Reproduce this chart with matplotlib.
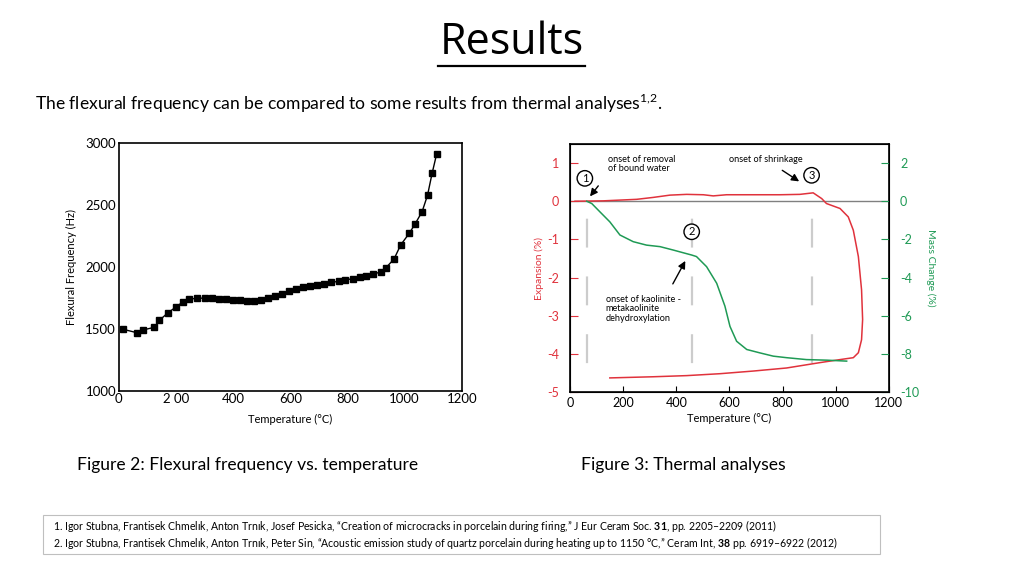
import matplotlib
matplotlib.use("Agg")
import matplotlib.pyplot as plt
from matplotlib.patches import Rectangle
from matplotlib.lines import Line2D

plt.rcParams["font.family"] = ["Lato", "DejaVu Sans"]
plt.rcParams["axes.unicode_minus"] = False
plt.rcParams["mathtext.fontset"] = "custom"
plt.rcParams["mathtext.rm"] = "Lato"
plt.rcParams["mathtext.bf"] = "Lato:bold"

# ---------- data: Figure 2, flexural frequency ----------
flex_temp = [16, 63, 84, 124, 142, 171, 200, 224, 247, 275, 301, 326, 352, 375,
             401, 425, 450, 473, 498, 521, 545, 571, 597, 620, 643, 669, 692,
             718, 744, 769, 793, 818, 843, 865, 888, 916, 935, 963, 986, 1016,
             1037, 1061, 1080, 1096, 1112]
flex_freq = [1496, 1469, 1491, 1512, 1569, 1628, 1677, 1717, 1741, 1747, 1749,
             1747, 1741, 1739, 1733, 1730, 1728, 1728, 1736, 1752, 1768, 1784,
             1803, 1819, 1836, 1846, 1854, 1863, 1876, 1884, 1895, 1906, 1916,
             1930, 1941, 1960, 1995, 2065, 2178, 2272, 2350, 2447, 2580, 2757,
             2914]

# ---------- data: Figure 3, thermal analyses ----------
exp_temp = [19, 125, 188, 251, 313, 376, 439, 502, 539, 589, 690, 790, 865, 915,
            947, 965, 1016, 1047, 1066, 1085, 1097, 1101, 1097, 1085, 1066,
            1016, 940, 815, 690, 564, 439, 313, 150]
exp_val = [0.0, 0.01, 0.03, 0.05, 0.10, 0.16, 0.18, 0.17, 0.14, 0.17, 0.17,
           0.17, 0.18, 0.22, 0.07, -0.06, -0.19, -0.41, -0.76, -1.45, -2.32,
           -3.10, -3.63, -3.97, -4.10, -4.15, -4.23, -4.37, -4.45, -4.52,
           -4.57, -4.60, -4.63]

mass_temp = [63, 82, 113, 150, 188, 238, 288, 339, 389, 426, 458, 476, 514, 552,
             583, 602, 627, 665, 715, 765, 815, 890, 966, 1041]
mass_val = [0.0, -0.12, -0.56, -1.08, -1.77, -2.12, -2.30, -2.38, -2.56, -2.70,
            -2.82, -2.90, -3.43, -4.30, -5.50, -6.56, -7.34, -7.77, -7.95,
            -8.12, -8.20, -8.30, -8.33, -8.38]

onset_temps = [63, 458, 909]

RED = "#e0323c"
GREEN = "#1f9a55"
GREY = "#cccccc"

fig = plt.figure(figsize=(10.24, 5.76), dpi=100)

# ---------- slide text ----------
fig.text(0.5, 0.925, "Results", ha="center", va="center", fontsize=31,
         family=["Open Sans", "DejaVu Sans"])
fig.add_artist(Line2D([438 / 1024, 585 / 1024], [1 - 66 / 576, 1 - 66 / 576],
                      color="black", lw=1.6))
fig.text(35 / 1024, 1 - 103 / 576,
         r"The flexural frequency can be compared to some results from thermal analyses$^{1{,}2}$.",
         ha="left", va="center", fontsize=12.6)

fig.text(77 / 1024, 1 - 465 / 576, "Figure 2: Flexural frequency vs. temperature",
         ha="left", va="center", fontsize=12.6)
fig.text(581 / 1024, 1 - 465 / 576, "Figure 3: Thermal analyses",
         ha="left", va="center", fontsize=12.6)

fig.add_artist(Rectangle((43 / 1024, 1 - 554 / 576), (880 - 43) / 1024, 39 / 576,
                         transform=fig.transFigure, fill=False,
                         edgecolor="#bfbfbf", lw=0.8))
fig.text(53 / 1024, 1 - 526 / 576,
         "1. Igor Stubna, Frantisek Chmelık, Anton Trnık, Josef Pesicka, \u201cCreation of microcracks in porcelain during firing,\u201d J Eur Ceram Soc. $\\bf{31}$, pp. 2205\u20132209 (2011)",
         ha="left", va="center", fontsize=7.6)
fig.text(53 / 1024, 1 - 543 / 576,
         "2. Igor Stubna, Frantisek Chmelık, Anton Trnık, Peter Sin, \u201cAcoustic emission study of quartz porcelain during heating up to 1150 \u00b0C,\u201d Ceram Int, $\\bf{38}$ pp. 6919\u20136922 (2012)",
         ha="left", va="center", fontsize=7.6)

# ---------- Figure 2 ----------
ax1 = fig.add_axes([0.116, 0.3217, 0.335, 0.4295])
ax1.plot(flex_temp, flex_freq, "-", color="black", lw=1.0,
         marker="s", ms=4.5, mfc="black", mec="black")
ax1.set_xlim(0, 1200)
ax1.set_ylim(1000, 3000)
ax1.set_xticks([0, 200, 400, 600, 800, 1000, 1200])
ax1.set_xticklabels(["0", "2 00", "400", "600", "800", "1000", "1200"])
ax1.set_yticks([1000, 1500, 2000, 2500, 3000])
ax1.tick_params(length=0, labelsize=9.5, pad=2)
for sp in ax1.spines.values():
    sp.set_linewidth(1.2)
ax1.set_xlabel("Temperature (\u00b0C)", fontsize=8, labelpad=6)
ax1.set_ylabel("Flexural Frequency (Hz)", fontsize=8, labelpad=6)

# ---------- Figure 3 ----------
ax2 = fig.add_axes([0.5566, 0.3194, 0.3115, 0.4306])
ax3 = ax2.twinx()
ax2.set_xlim(0, 1200)
ax2.set_ylim(-5, 1.5)
ax3.set_ylim(-10, 3)

for t in onset_temps:
    ax2.axvline(t, ymax=0.77, color=GREY, lw=1.6, ls=(13, (13, 13)), zorder=0)
ax2.axhline(0, color="#808080", lw=1.0, zorder=1)

ax2.plot(exp_temp, exp_val, color=RED, lw=1.1, zorder=3)
ax3.plot(mass_temp, mass_val, color=GREEN, lw=1.1, zorder=3)

ax2.set_xticks([0, 200, 400, 600, 800, 1000, 1200])
ax2.set_yticks([-5, -4, -3, -2, -1, 0, 1])
ax3.set_yticks([-10, -8, -6, -4, -2, 0, 2])
ax2.tick_params(axis="x", direction="in", length=4, labelsize=9, colors="black")
ax2.tick_params(axis="y", direction="in", length=6, labelsize=9,
                colors=RED, pad=8)
ax3.tick_params(axis="y", direction="in", length=6, labelsize=9,
                colors=GREEN, pad=8)
ax2.set_xlabel("Temperature (\u00b0C)", fontsize=8, labelpad=3)
ax2.set_ylabel("Expansion (%)", fontsize=7.5, color=RED, labelpad=2)
ax3.set_ylabel("Mass Change (%)", fontsize=7.5, color=GREEN, rotation=-90,
               labelpad=12)

circ = dict(boxstyle="circle,pad=0.2", fc="white", ec="black", lw=1.0)
ax2.text(56, 0.60, "1", ha="center", va="center", fontsize=8, bbox=circ)
ax2.text(458, -0.80, "2", ha="center", va="center", fontsize=8, bbox=circ)
ax2.text(909, 0.68, "3", ha="center", va="center", fontsize=8, bbox=circ)

arrow = dict(arrowstyle="-|>", color="black", lw=1.0, mutation_scale=11)
ax2.annotate("", xy=(69, 0.07), xytext=(113, 0.46), arrowprops=arrow)
ax2.annotate("", xy=(871, 0.48), xytext=(790, 0.85), arrowprops=arrow)
ax2.annotate("", xy=(439, -1.5), xytext=(382, -2.23), arrowprops=arrow)

ax2.text(144, 1.22, "onset of removal\nof bound water", ha="left", va="top",
         fontsize=6.6, linespacing=1.1)
ax2.text(600, 1.22, "onset of shrinkage", ha="left", va="top", fontsize=6.6)
ax2.text(135, -2.45, "onset of kaolinite -\nmetakaolinite\ndehydroxylation",
         ha="left", va="top", fontsize=6.6, linespacing=1.1)

for sp in ax2.spines.values():
    sp.set_linewidth(1.2)

fig.savefig("out.png", dpi=100)
